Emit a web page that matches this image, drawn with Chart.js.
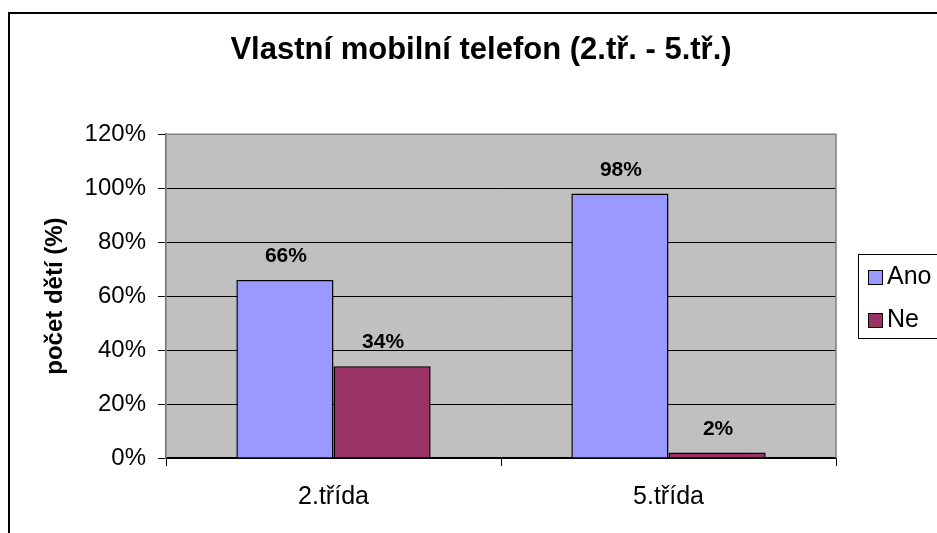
<!DOCTYPE html>
<html lang="cs">
<head>
    <meta charset="UTF-8">
    <title>Vlastní mobilní telefon</title>
    <script src="https://cdn.jsdelivr.net/npm/chart.js"></script>
    <style>
        body {
            margin: 0;
            background: #fff;
        }
    </style>
</head>
<body>
<canvas id="phoneChart" width="937" height="533"></canvas>

<script>
    // data
    const categories = ['2.třída', '5.třída'];
    const seriesNames = ['Ano', 'Ne'];
    const anoValues = [66, 98];
    const neValues = [34, 2];
    const seriesColors = ['#9999FF', '#993366'];
    const yMax = 120;
    const yStep = 20;

    const chartTitle = 'Vlastní mobilní telefon (2.tř. - 5.tř.)';
    const yTitle = 'počet dětí (%)';
    const FONT = "'Liberation Sans', Arial, sans-serif";

    // grey plot area, outer frame and plot border
    const frame = {
        id: 'frame',
        beforeDraw(chart) {
            const ctx = chart.ctx;
            const a = chart.chartArea;
            ctx.save();
            ctx.fillStyle = '#fff';
            ctx.fillRect(0, 0, chart.width, chart.height);
            ctx.fillStyle = '#C0C0C0';
            ctx.fillRect(a.left, a.top, a.right - a.left, a.bottom - a.top);
            ctx.restore();
        },
        beforeDatasetsDraw(chart) {
            const ctx = chart.ctx;
            const a = chart.chartArea;
            ctx.save();
            ctx.strokeStyle = '#808080';
            ctx.lineWidth = 1.5;
            ctx.beginPath();
            ctx.moveTo(a.left, a.top);
            ctx.lineTo(a.right, a.top);
            ctx.lineTo(a.right, a.bottom);
            ctx.stroke();
            ctx.restore();
        },
        afterDraw(chart) {
            const ctx = chart.ctx;
            ctx.save();
            ctx.strokeStyle = '#000';
            ctx.lineWidth = 2;
            ctx.strokeRect(9, 13, chart.width + 20, chart.height + 20);
            ctx.restore();
        }
    };

    // bold value labels above the bars
    const valueLabels = {
        id: 'valueLabels',
        afterDatasetsDraw(chart) {
            const ctx = chart.ctx;
            ctx.save();
            ctx.font = 'bold 21px ' + FONT;
            ctx.fillStyle = '#000';
            ctx.textAlign = 'center';
            ctx.textBaseline = 'alphabetic';
            chart.data.datasets.forEach((ds, i) => {
                chart.getDatasetMeta(i).data.forEach((bar, j) => {
                    ctx.fillText(ds.data[j] + '%', bar.x + 1, bar.y - 18);
                });
            });
            ctx.restore();
        }
    };

    // excel style legend box on the right
    const boxLegend = {
        id: 'boxLegend',
        afterDraw(chart) {
            const ctx = chart.ctx;
            ctx.save();
            ctx.fillStyle = '#fff';
            ctx.strokeStyle = '#000';
            ctx.lineWidth = 1;
            ctx.fillRect(858.5, 254.5, 100, 84);
            ctx.strokeRect(858.5, 254.5, 100, 84);
            ctx.font = '25px ' + FONT;
            ctx.textBaseline = 'alphabetic';
            chart.data.datasets.forEach((ds, i) => {
                const y = 270 + i * 43;
                ctx.fillStyle = ds.backgroundColor;
                ctx.fillRect(868.5, y + 0.5, 14, 14);
                ctx.strokeRect(868.5, y + 0.5, 14, 14);
                ctx.fillStyle = '#000';
                ctx.fillText(ds.label, 887, y + 13.5);
            });
            ctx.restore();
        }
    };

    new Chart(document.getElementById('phoneChart'), {
        type: 'bar',
        data: {
            labels: categories,
            datasets: [
                {
                    label: seriesNames[0],
                    data: anoValues,
                    backgroundColor: seriesColors[0],
                    borderColor: '#000',
                    borderWidth: 1.5,
                    categoryPercentage: 0.58,
                    barPercentage: 1
                },
                {
                    label: seriesNames[1],
                    data: neValues,
                    backgroundColor: seriesColors[1],
                    borderColor: '#000',
                    borderWidth: 1.5,
                    categoryPercentage: 0.58,
                    barPercentage: 1
                }
            ]
        },
        options: {
            responsive: false,
            animation: false,
            devicePixelRatio: 1,
            layout: {
                padding: { left: 25, right: 0, top: 0, bottom: 5 }
            },
            plugins: {
                legend: { display: false },
                tooltip: { enabled: false },
                title: {
                    display: true,
                    text: chartTitle,
                    color: '#000',
                    font: { family: FONT, size: 31, weight: 'bold', lineHeight: 1.2 },
                    padding: { top: 32, bottom: 65 }
                }
            },
            scales: {
                x: {
                    grid: {
                        drawOnChartArea: false,
                        tickLength: 8,
                        tickColor: '#000'
                    },
                    border: { color: '#000', width: 1.5 },
                    ticks: {
                        color: '#000',
                        padding: 16,
                        font: { family: FONT, size: 25 }
                    }
                },
                y: {
                    min: 0,
                    max: yMax,
                    afterFit(scale) { scale.width = 141; },
                    grid: {
                        color: ctx => ctx.tick && ctx.tick.value === yMax ? '#808080' : '#000',
                        tickLength: 8,
                        tickColor: '#000'
                    },
                    border: { color: '#707070', width: 1.5 },
                    ticks: {
                        stepSize: yStep,
                        color: '#000',
                        padding: 12,
                        font: { family: FONT, size: 24 },
                        callback: v => v + '%'
                    },
                    title: {
                        display: true,
                        text: yTitle,
                        color: '#000',
                        font: { family: FONT, size: 24, weight: 'bold', lineHeight: 1.2 },
                        padding: { top: 16, bottom: 0 }
                    }
                },
                // empty space on the right that holds the legend box
                legendSpace: {
                    type: 'linear',
                    position: 'right',
                    afterFit(scale) { scale.width = 101; },
                    grid: { display: false, drawTicks: false },
                    border: { display: false },
                    ticks: { display: false }
                }
            }
        },
        plugins: [frame, valueLabels, boxLegend]
    });
</script>
</body>
</html>
